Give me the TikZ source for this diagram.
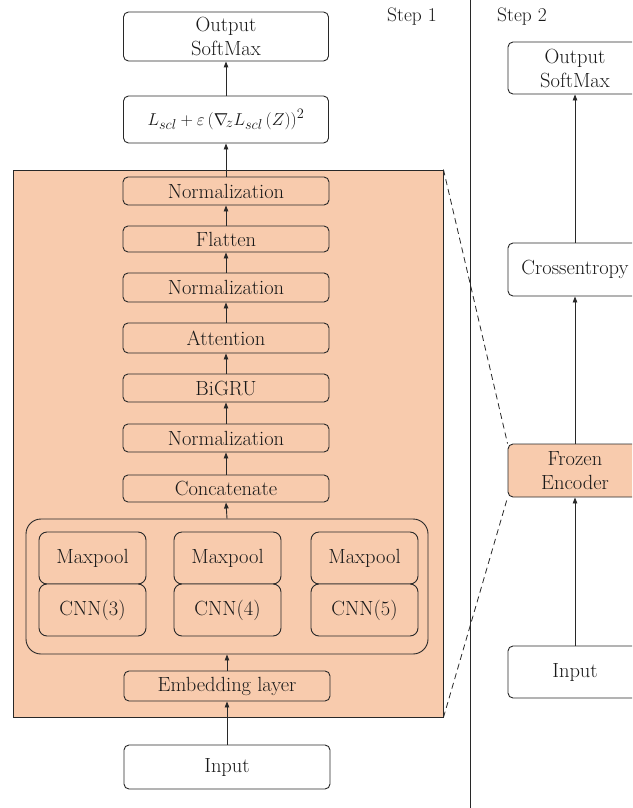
\documentclass[tikz,border=0pt]{standalone}
\usetikzlibrary{arrows.meta}
\definecolor{peach}{RGB}{248,203,173}
\definecolor{ink}{RGB}{40,40,40}
\definecolor{txt}{RGB}{25,25,25}
\begin{document}
\begin{tikzpicture}[x=1pt,y=-1pt,
  font=\fontsize{20.5}{24}\selectfont,
  box/.style={draw=ink, line width=0.9pt, rounded corners=5pt, inner sep=0pt, align=center, text=txt},
  layerbox/.style={box, fill=peach, minimum width=206pt},
  cellbox/.style={box, fill=peach, rounded corners=8pt, minimum width=107pt, minimum height=52pt},
  arr/.style={draw=ink, line width=0.9pt, -{Triangle[length=6pt,width=4.5pt]}},
  zoomline/.style={draw=ink, line width=0.8pt, dash pattern=on 6pt off 4pt},
  steplabel/.style={text=txt, font=\fontsize{19.5}{22}\selectfont}]
\useasboundingbox (0,0) rectangle (632,808);
\clip (0,0) rectangle (632,808);
% Step 1 column
\node[box, fill=white, minimum width=205pt, minimum height=49pt] (out1) at (226,36.5) {Output\\SoftMax};
\node[box, fill=white, minimum width=205pt, minimum height=47pt, font=\fontsize{19}{22}\selectfont] (loss) at (226,119.5) {$L_{scl}+\varepsilon\,(\nabla_{\!z}L_{scl}\,(Z))^2$};
\node[draw=ink, line width=0.9pt, fill=peach, inner sep=0pt, minimum width=430pt, minimum height=547pt] (enc) at (228,443.5) {};
\node[layerbox, minimum height=28pt] (n1) at (226,191) {Normalization};
\node[layerbox, minimum height=26pt] (flat) at (226,239) {Flatten};
\node[layerbox, minimum height=29pt] (n2) at (226,287.5) {Normalization};
\node[layerbox, minimum height=30pt] (att) at (226,338) {Attention};
\node[layerbox, minimum height=28pt] (bigru) at (226,388) {BiGRU};
\node[layerbox, minimum height=28pt] (n3) at (226,438) {Normalization};
\node[layerbox, minimum height=27pt] (concat) at (226,488.5) {Concatenate};
\node[box, fill=peach, rounded corners=15pt, minimum width=402pt, minimum height=135pt] (grp) at (227,586.5) {};
\node[cellbox] (mp3) at (92.5,558) {Maxpool};
\node[cellbox] (cnn3) at (92.5,610) {CNN(3)};
\node[cellbox] (mp4) at (227.5,558) {Maxpool};
\node[cellbox] (cnn4) at (227.5,610) {CNN(4)};
\node[cellbox] (mp5) at (364.5,558) {Maxpool};
\node[cellbox] (cnn5) at (364.5,610) {CNN(5)};
\node[layerbox, minimum height=30pt] (emb) at (227,686) {Embedding layer};
\node[box, fill=white, minimum width=206pt, minimum height=44pt] (in1) at (227,767) {Input};
\node[steplabel] (s1) at (412,17) {Step 1};
% arrows step 1
\draw[arr] (in1.north) -- (emb.south);
\draw[arr] (emb.north) -- (grp.south);
\draw[arr] (grp.north) -- (concat.south);
\draw[arr] (concat.north) -- (n3.south);
\draw[arr] (n3.north) -- (bigru.south);
\draw[arr] (bigru.north) -- (att.south);
\draw[arr] (att.north) -- (n2.south);
\draw[arr] (n2.north) -- (flat.south);
\draw[arr] (flat.north) -- (n1.south);
\draw[arr] (n1.north) -- (loss.south);
\draw[arr] (loss.north) -- (out1.south);
% separator
\coordinate (septop) at (470,0);
\coordinate (sepbot) at (470,808);
\draw[ink, line width=0.9pt] (septop) -- (sepbot);
% Step 2 column
\node[steplabel] (s2) at (522,17) {Step 2};
\node[box, fill=white, minimum width=134pt, minimum height=52pt] (out2) at (575,68) {Output\\SoftMax};
\node[box, fill=white, minimum width=134pt, minimum height=53pt] (ce) at (575,269.5) {Crossentropy};
\node[box, fill=peach, minimum width=134pt, minimum height=53pt] (frz) at (575,470.5) {Frozen\\Encoder};
\node[box, fill=white, minimum width=134pt, minimum height=52pt] (in2) at (575,672) {Input};
\draw[arr] (in2.north) -- (frz.south);
\draw[arr] (frz.north) -- (ce.south);
\draw[arr] (ce.north) -- (out2.south);
% zoom lines
\draw[zoomline] (enc.north east) -- (frz.north west);
\draw[zoomline] (enc.south east) -- (frz.south west);
\end{tikzpicture}
\end{document}
